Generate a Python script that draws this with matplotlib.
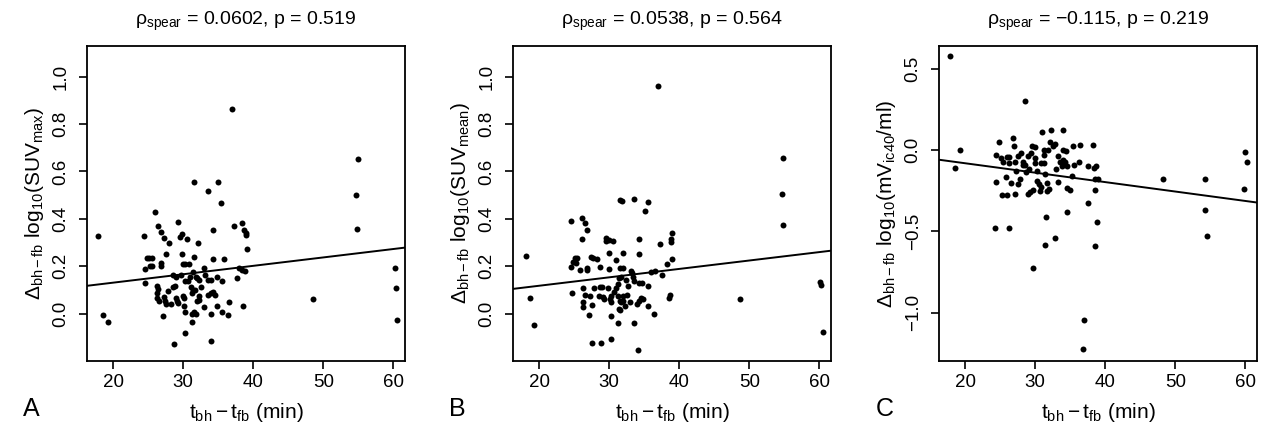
import matplotlib
matplotlib.use('Agg')
import matplotlib.pyplot as plt
import numpy as np

# ---- data ----
# Panel A: delta log10(SUVmax) vs time difference
a_x = [17.86, 18.6, 19.2, 37.0, 54.9, 54.6, 54.8, 48.5, 60.2, 60.3, 60.5,
       24.4, 26.0, 26.4, 26.8, 27.3, 28.0, 29.3, 29.6, 29.8, 30.6, 31.5, 33.6,
       35.0, 35.4, 34.2, 32.1, 37.2, 38.4, 38.7, 38.9, 39.0, 39.1, 24.8, 25.1,
       25.5, 25.2, 25.6, 24.5, 24.5, 26.8, 26.9, 27.5, 29.8, 29.9, 30.2, 30.8,
       31.5, 34.3, 35.8, 28.5, 29.0, 29.7, 30.3, 30.7, 31.0, 31.4, 31.8, 32.0,
       32.2, 33.0, 33.1, 33.5, 33.9, 34.8, 35.5, 37.7, 38.0, 38.4, 38.8, 26.3,
       26.4, 26.2, 26.3, 26.5, 27.3, 27.4, 27.5, 27.8, 28.3, 28.5, 28.8, 28.9,
       29.1, 29.3, 30.0, 30.1, 30.1, 30.2, 31.1, 31.2, 31.4, 31.7, 31.9, 32.3,
       32.3, 32.6, 32.9, 33.6, 34.0, 34.2, 34.6, 34.8, 35.6, 36.4, 36.6, 38.6,
       31.2, 31.5, 31.8, 33.9, 27.1, 31.2, 30.2, 28.7, 34.0]
a_y = [0.328, -0.006, -0.034, 0.862, 0.651, 0.499, 0.358, 0.062, 0.192, 0.108, -0.025,
       0.328, 0.431, 0.372, 0.345, 0.318, 0.300, 0.388, 0.325, 0.335, 0.317, 0.557, 0.519,
       0.555, 0.467, 0.353, 0.297, 0.370, 0.381, 0.353, 0.339, 0.334, 0.272, 0.236, 0.236,
       0.236, 0.203, 0.203, 0.188, 0.129, 0.213, 0.203, 0.252, 0.252, 0.210, 0.210, 0.210,
       0.241, 0.230, 0.233, 0.163, 0.157, 0.163, 0.140, 0.139, 0.154, 0.178, 0.157, 0.149,
       0.143, 0.194, 0.164, 0.143, 0.143, 0.156, 0.139, 0.150, 0.191, 0.185, 0.182, 0.118,
       0.104, 0.087, 0.066, 0.056, 0.069, 0.052, 0.041, 0.095, 0.042, 0.115, 0.119, 0.066,
       0.052, 0.045, 0.073, 0.066, 0.031, 0.006, 0.114, 0.087, 0.101, 0.101, 0.052, 0.059,
       0.073, 0.112, 0.028, 0.080, 0.087, 0.090, 0.080, 0.031, 0.008, -0.003, 0.050, 0.032,
       0.000, 0.007, 0.000, 0.000, -0.011, -0.036, -0.083, -0.128, -0.114]

# Panel B: delta log10(SUVmean)
b_x = [18.06, 18.7, 19.3, 37.0, 54.75, 54.66, 54.8, 48.6, 60.05, 60.2, 60.5,
       24.5, 26.1, 26.5, 26.8, 26.1, 31.6, 31.8, 33.6, 35.5, 35.1, 29.5, 29.6,
       30.0, 30.6, 29.9, 32.0, 34.2, 34.3, 37.2, 38.8, 38.8, 39.0, 38.9, 38.2,
       37.6, 36.5, 35.9, 25.1, 25.4, 24.9, 25.2, 24.5, 25.8, 26.9, 26.9, 27.4,
       27.7, 28.2, 28.7, 30.0, 30.9, 31.5, 32.0, 31.4, 31.7, 32.4, 33.1, 33.2,
       33.4, 33.6, 34.2, 34.7, 35.6, 32.7, 31.2, 31.0, 24.7, 26.3, 26.5, 26.3,
       26.2, 27.2, 27.1, 27.6, 27.8, 28.5, 28.7, 29.0, 29.1, 29.3, 29.8, 30.1,
       30.2, 30.3, 30.3, 30.7, 31.3, 31.5, 31.7, 32.0, 32.0, 32.3, 32.5, 32.9,
       31.4, 31.6, 34.0, 34.3, 34.6, 34.8, 35.6, 36.4, 38.5, 38.7, 31.3, 33.6,
       27.6, 28.8, 30.3, 34.1]
b_y = [0.243, 0.065, -0.049, 0.959, 0.656, 0.505, 0.376, 0.062, 0.133, 0.121, -0.076,
       0.391, 0.405, 0.384, 0.352, 0.314, 0.480, 0.474, 0.485, 0.470, 0.432, 0.320, 0.306,
       0.311, 0.307, 0.258, 0.255, 0.316, 0.250, 0.293, 0.302, 0.316, 0.342, 0.231, 0.210,
       0.164, 0.182, 0.177, 0.234, 0.234, 0.220, 0.213, 0.199, 0.185, 0.195, 0.185, 0.238,
       0.237, 0.229, 0.196, 0.188, 0.227, 0.192, 0.192, 0.153, 0.157, 0.143, 0.182, 0.174,
       0.157, 0.139, 0.129, 0.129, 0.118, 0.118, 0.125, 0.107, 0.087, 0.108, 0.080, 0.050,
       0.027, 0.073, -0.006, 0.038, 0.107, 0.076, 0.114, 0.115, 0.070, 0.063, 0.108, 0.062,
       0.049, 0.076, -0.008, 0.090, 0.076, 0.056, 0.048, 0.073, 0.052, 0.034, 0.079, 0.049,
       0.020, 0.014, 0.042, 0.055, 0.066, 0.062, 0.034, 0.000, 0.066, 0.080, -0.039, -0.039,
       -0.122, -0.123, -0.107, -0.154]

# Panel C: delta log10(mVic40/ml)
c_x = [17.83, 18.5, 19.2, 28.6, 36.9, 36.8, 48.25, 54.3, 54.2, 54.5, 60.0, 60.2, 59.8,
       24.8, 24.4, 24.4, 24.3, 26.2, 25.2, 26.0, 25.1, 25.4, 25.9, 26.0, 26.2,
       26.3, 26.6, 26.9, 27.0, 27.1, 27.1, 27.3, 27.5, 27.5, 27.8, 28.0, 28.3,
       28.3, 28.6, 28.7, 28.9, 29.1, 29.0, 29.2, 29.4, 29.7, 29.6, 29.9, 30.0,
       30.0, 30.2, 30.3, 29.7, 30.5, 30.7, 30.8, 30.8, 31.0, 31.2, 31.3, 31.3,
       31.4, 31.4, 31.6, 31.7, 31.7, 31.9, 31.8, 32.1, 32.3, 32.5, 32.8, 32.8,
       33.0, 33.2, 33.3, 33.5, 33.8, 33.9, 34.0, 34.0, 34.2, 34.4, 34.5, 34.6,
       34.5, 34.9, 35.2, 35.4, 35.6, 36.2, 36.4, 37.6, 38.3, 38.4, 38.7, 38.5,
       38.9, 38.5, 37.5, 38.8, 38.5]
c_y = [0.577, -0.109, 0.000, 0.300, -1.046, -1.221, -0.178, -0.178, -0.367, -0.527, -0.012, -0.072, -0.240,
       0.051, -0.031, -0.193, -0.480, -0.480, -0.273, -0.273, -0.051, -0.076, -0.168, -0.041, -0.041,
       -0.082, -0.199, 0.072, 0.025, -0.076, -0.267, -0.131, -0.035, -0.209, -0.178, -0.018, -0.092,
       -0.072, -0.090, -0.137, -0.035, -0.117, -0.269, -0.256, -0.018, -0.246, 0.027, 0.018, -0.051,
       -0.082, -0.127, -0.187, -0.722, -0.209, -0.250, -0.226, -0.082, 0.109, -0.031, -0.002, -0.082,
       -0.148, -0.583, -0.414, -0.199, -0.250, -0.240, -0.002, 0.047, 0.123, 0.027, 0.037, -0.542,
       -0.117, -0.035, -0.195, -0.076, -0.096, -0.059, 0.123, 0.000, -0.072, -0.004, -0.096, -0.230,
       -0.378, -0.244, -0.158, 0.027, -0.092, -0.072, 0.031, -0.096, 0.031, -0.107, -0.096, -0.178,
       -0.178, -0.244, -0.326, -0.441, -0.589]

# fitted lines (intercept, slope)
fits = [(0.0603, 0.003548), (0.0473, 0.003548), (0.0353, -0.005796)]

titles = [r'$\mathrm{\rho_{spear}}$ = 0.0602, p = 0.519',
          r'$\mathrm{\rho_{spear}}$ = 0.0538, p = 0.564',
          r'$\mathrm{\rho_{spear}}$ = ' + '\u22120.115, p = 0.219']
ylabels = [r'$\mathrm{\Delta_{bh-fb}\ log_{10}(SUV_{max})}$',
           r'$\mathrm{\Delta_{bh-fb}\ log_{10}(SUV_{mean})}$',
           r'$\mathrm{\Delta_{bh-fb}\ log_{10}(mV_{ic40}/ml)}$']
letters = ['A', 'B', 'C']
x_ticks = [20, 30, 40, 50, 60]
y_ticks_ab = [0.0, 0.2, 0.4, 0.6, 0.8, 1.0]
y_ticks_c = [-1.0, -0.5, 0.0, 0.5]

plt.rcParams['font.family'] = ['Liberation Sans', 'DejaVu Sans']
plt.rcParams['mathtext.fontset'] = 'custom'
plt.rcParams['mathtext.rm'] = 'Liberation Sans'
plt.rcParams['mathtext.it'] = 'Liberation Sans:italic'
plt.rcParams['mathtext.bf'] = 'Liberation Sans:bold'

fig = plt.figure(figsize=(12.61, 4.26), dpi=100)
lefts = [87, 513, 939]
datasets = [(a_x, a_y), (b_x, b_y), (c_x, c_y)]
fmt = matplotlib.ticker.FuncFormatter(lambda v, p: f'{v:.1f}'.replace('-', '\u2212'))

for i, (xs, ys) in enumerate(datasets):
    ax = fig.add_axes([lefts[i] / 1261, 65 / 426, 318 / 1261, 315 / 426])
    ax.plot(xs, ys, 'o', color='black', markersize=4.3, markeredgewidth=0)
    b0, m = fits[i]
    ax.axline((0, b0), slope=m, color='black', linewidth=1.4)
    ax.set_xlim(16.27, 61.65)
    if i < 2:
        ax.set_ylim(-0.199, 1.129)
        ax.set_yticks(y_ticks_ab)
    else:
        ax.set_ylim(-1.296, 0.64)
        ax.set_yticks(y_ticks_c)
    ax.set_xticks(x_ticks)
    ax.yaxis.set_major_formatter(fmt)
    for s in ax.spines.values():
        s.set_linewidth(1.3)
    ax.tick_params(direction='out', length=5.5, width=1.2, labelsize=13.5)
    ax.tick_params(axis='x', pad=4)
    ax.tick_params(axis='y', pad=7)
    for lbl in ax.get_yticklabels():
        lbl.set_rotation(90)
        lbl.set_va('center')
    ax.set_title(titles[i], fontsize=14, pad=15)
    ax.set_ylabel(ylabels[i], fontsize=15, labelpad=5)
    ax.set_xlabel(r'$\mathrm{t_{bh} - t_{fb}}$ (min)', fontsize=15, labelpad=7)
    ax.text(-0.2, -0.113, letters[i], transform=ax.transAxes, fontsize=18,
            ha='left', va='top')

plt.savefig('out.png', dpi=100)
